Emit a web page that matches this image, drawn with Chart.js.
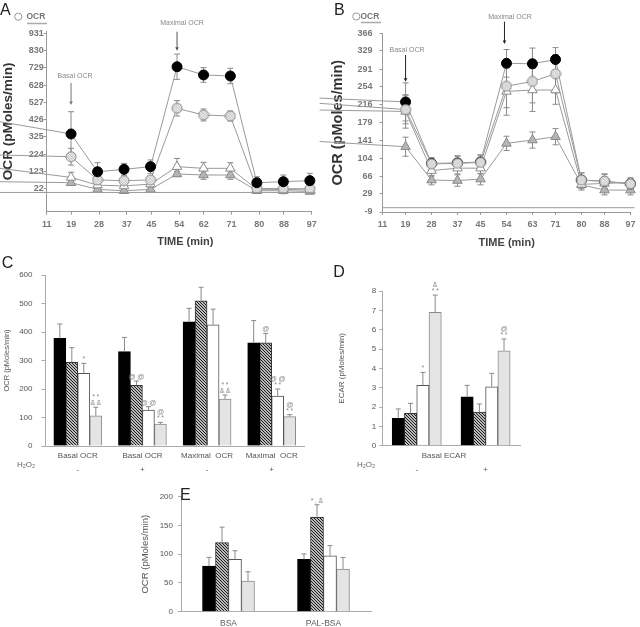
<!DOCTYPE html>
<html>
<head>
<meta charset="utf-8">
<script src="https://cdn.jsdelivr.net/npm/chart.js@4.4.0/dist/chart.umd.min.js"></script>
<style>
  html, body { margin: 0; padding: 0; background: #fff; }
  #wrap { position: relative; width: 640px; height: 627px; overflow: hidden; }
  #wrap canvas { position: absolute; left: 0; top: 0; }
</style>
</head>
<body>
<div id="wrap">
  <canvas id="chartA" width="640" height="627"></canvas>
  <canvas id="chartB" width="640" height="627"></canvas>
  <canvas id="chartC" width="640" height="627"></canvas>
  <canvas id="chartD" width="640" height="627"></canvas>
  <canvas id="chartE" width="640" height="627"></canvas>
</div>
<script>
// ---- Panel A: OCR time course (first entry = where each line enters from the left edge)
const timeA = [-4.2, 18.9, 27.5, 36.1, 44.7, 53.3, 61.9, 70.6, 79.2, 87.8, 96.4];
const xTicksA = [11, 19, 28, 37, 45, 54, 62, 71, 80, 88, 97];
const yTicksA = [22, 123, 224, 325, 426, 527, 628, 729, 830, 931];
const aBlack = [414, 342, 121, 135, 151, 735, 687, 681, 57, 63, 69];
const aBlackErr = [null, 130, 53, 35, 39, 74, 43, 45, 35, 39, 43];
const aHatch = [219, 209, 73, 69, 73, 492, 453, 447, 24, 22, 22];
const aHatchErr = [null, 49, 20, 15, 15, 45, 35, 29, 8, 8, 8];
const aWhite = [141, 88, 43, 38, 49, 151, 141, 141, 18, 18, 14];
const aWhiteErr = [null, 30, 10, 10, 10, 48, 35, 33, 6, 6, 6];
const aGray = [63, 57, 18, 10, 18, 108, 102, 102, 10, 10, 6];
const aGrayErr = [null, 15, 8, 8, 8, 15, 25, 25, 5, 5, 5];

// ---- Panel B
const timeB = [-10.8, 19, 28, 37, 45, 54, 63, 71, 80, 88, 97];
const xTicksB = [11, 19, 28, 37, 45, 54, 63, 71, 80, 88, 97];
const yTicksB = [-9, 29, 66, 104, 141, 179, 216, 254, 291, 329, 366];
const bBlack = [230, 222, 93, 94, 96, 303, 302, 311, 58, 55, 50];
const bBlackErr = [null, 40, 12, 15, 15, 29, 33, 25, 15, 15, 10];
const bHatch = [219, 206, 92, 93, 95, 255, 265, 281, 58, 56, 50];
const bHatchErr = [null, 30, 12, 15, 15, 45, 45, 40, 15, 15, 10];
const bWhite = [205, 202, 78, 83, 83, 244, 247, 247, 49, 51, 53];
const bWhiteErr = [null, 35, 12, 12, 12, 50, 45, 30, 12, 12, 10];
const bGray = [139, 128, 58, 57, 60, 135, 142, 149, 48, 37, 37];
const bGrayErr = [null, 20, 10, 12, 12, 15, 17, 17, 8, 10, 10];

// ---- Panel C: OCR bars
const groupsC = [['Basal OCR', '-'], ['Basal OCR', '+'], ['Maximal  OCR', '-'], ['Maximal  OCR', '+']];
const cBlack = [378, 331, 436, 362];
const cBlackErr = [50, 50, 47, 78];
const cHatch = [294, 213, 509, 362];
const cHatchErr = [51, 15, 48, 33];
const cWhite = [255, 126, 425, 175];
const cWhiteErr = [35, 12, 55, 25];
const cGray = [106, 77, 165, 103];
const cGrayErr = [30, 6, 14, 7];
const cHatchSig = [[], ['@@'], [], ['@']];
const cWhiteSig = [['*'], ['@@'], [], ['@@', '**']];
const cGraySig = [['**', '&&'], ['@', '**'], ['**', '&&'], ['@', '**']];

// ---- Panel D: ECAR bars
const groupsD = [['', '-'], ['', '+']];
const dBlack = [1.42, 2.53];
const dBlackErr = [0.48, 0.59];
const dHatch = [1.68, 1.74];
const dHatchErr = [0.51, 0.42];
const dWhite = [3.12, 3.05];
const dWhiteErr = [0.67, 0.69];
const dGray = [6.9, 4.91];
const dGrayErr = [0.89, 0.61];
const dWhiteSig = [['*'], []];
const dGraySig = [['&', '**'], ['@', '**']];

// ---- Panel E: OCR, BSA vs PAL-BSA
const groupsE = ['BSA', 'PAL-BSA'];
const eBlack = [79.5, 91];
const eBlackErr = [15, 9.5];
const eHatch = [120, 164];
const eHatchErr = [27, 22];
const eWhite = [91, 97];
const eWhiteErr = [15, 18];
const eGray = [53.4, 74.3];
const eGrayErr = [16, 20];
const eHatchSig = [[], ['*,&']];

const SANS = "'Liberation Sans', Arial, sans-serif";
Chart.defaults.font.family = SANS;

// diagonal hatch fill for bars
function hatchPattern() {
  const t = document.createElement('canvas');
  t.width = t.height = 3;
  const g = t.getContext('2d');
  g.fillStyle = '#fff';
  g.fillRect(0, 0, 3, 3);
  g.strokeStyle = '#111';
  g.lineWidth = 1.1;
  g.beginPath();
  g.moveTo(-1, -1); g.lineTo(4, 4);
  g.moveTo(-1, 2); g.lineTo(1, 4);
  g.moveTo(2, -1); g.lineTo(4, 1);
  g.stroke();
  return g.createPattern(t, 'repeat');
}

// hatched circle marker for the line panels
function hatchedDot(r) {
  const s = Math.ceil(r * 2 + 2);
  const c = document.createElement('canvas');
  c.width = c.height = s;
  const g = c.getContext('2d');
  const m = s / 2;
  g.beginPath(); g.arc(m, m, r, 0, Math.PI * 2);
  g.fillStyle = '#fff'; g.fill();
  g.save(); g.clip();
  g.strokeStyle = '#777'; g.lineWidth = 0.7;
  for (let k = -s; k < 2 * s; k += 2.6) {
    g.beginPath(); g.moveTo(k, 0); g.lineTo(k + s, s); g.stroke();
  }
  g.restore();
  g.beginPath(); g.arc(m, m, r, 0, Math.PI * 2);
  g.strokeStyle = '#888'; g.lineWidth = 1; g.stroke();
  return c;
}

const HATCH = hatchPattern();
const HDOT = hatchedDot(5);

// error bars (and significance marks on the bar panels)
function drawErrors(chart, upOnly) {
  const ctx = chart.ctx;
  const ys = chart.scales.y;
  ctx.save();
  ctx.strokeStyle = '#8a8a8a';
  ctx.lineWidth = 1;
  chart.data.datasets.forEach((ds, i) => {
    if (!ds.errors) return;
    const meta = chart.getDatasetMeta(i);
    meta.data.forEach((el, j) => {
      const e = ds.errors[j];
      if (e == null) return;
      const v = upOnly ? ds.data[j] : ds.data[j].y;
      const top = ys.getPixelForValue(v + e);
      const bot = upOnly ? el.y : ys.getPixelForValue(v - e);
      const cap = upOnly ? 2.5 : 3;
      ctx.beginPath();
      ctx.moveTo(el.x, bot); ctx.lineTo(el.x, top);
      ctx.moveTo(el.x - cap, top); ctx.lineTo(el.x + cap, top);
      if (!upOnly) { ctx.moveTo(el.x - cap, bot); ctx.lineTo(el.x + cap, bot); }
      ctx.stroke();
      const marks = ds.sig && ds.sig[j];
      if (marks && marks.length) {
        ctx.fillStyle = '#888';
        ctx.font = '7px ' + SANS;
        ctx.letterSpacing = '1.5px';
        ctx.textAlign = 'center';
        ctx.textBaseline = 'alphabetic';
        const n = marks.length;
        marks.forEach((m, k) => ctx.fillText(m, el.x + 0.75, top - 2 - (n - 1 - k) * 6));
        ctx.letterSpacing = '0px';
      }
    });
  });
  ctx.restore();
}

const errorBars = {
  id: 'errorBars',
  beforeDatasetsDraw(chart) { if (chart.config.type === 'line') drawErrors(chart, false); },
  afterDatasetsDraw(chart) { if (chart.config.type === 'bar') drawErrors(chart, true); }
};

function txt(ctx, s, x, y, font, color, align, base) {
  ctx.font = font;
  ctx.fillStyle = color;
  ctx.textAlign = align || 'center';
  ctx.textBaseline = base || 'middle';
  ctx.fillText(s, x, y);
}

function arrow(ctx, x, y1, y2, color) {
  ctx.strokeStyle = color; ctx.fillStyle = color; ctx.lineWidth = 1;
  ctx.beginPath(); ctx.moveTo(x, y1); ctx.lineTo(x, y2 - 2); ctx.stroke();
  ctx.beginPath(); ctx.moveTo(x - 1.8, y2 - 3.5); ctx.lineTo(x + 1.8, y2 - 3.5); ctx.lineTo(x, y2); ctx.closePath(); ctx.fill();
}

function legendOCR(ctx, cx, cy, tx, ux1, ux2, uy) {
  ctx.strokeStyle = '#999'; ctx.lineWidth = 1;
  ctx.beginPath(); ctx.arc(cx, cy, 3.6, 0, Math.PI * 2); ctx.stroke();
  txt(ctx, 'OCR', tx, cy, 'bold 8.5px ' + SANS, '#777', 'left');
  ctx.strokeStyle = '#aaa'; ctx.lineWidth = 1.5;
  ctx.beginPath(); ctx.moveTo(ux1, uy); ctx.lineTo(ux2, uy); ctx.stroke();
}

function zeroLine(ctx, chart, x1) {
  const y = chart.scales.y.getPixelForValue(0);
  ctx.strokeStyle = '#9a9a9a'; ctx.lineWidth = 1;
  ctx.beginPath(); ctx.moveTo(x1, y); ctx.lineTo(chart.chartArea.right + 4, y); ctx.stroke();
}

function panelPlugin(id, fn) {
  return { id, afterDraw(chart) { const ctx = chart.ctx; ctx.save(); fn(ctx, chart); ctx.restore(); } };
}

function lineSet(label, times, vals, errs, look, order) {
  return {
    label, order,
    data: times.map((t, i) => ({ x: t, y: vals[i] })),
    errors: errs,
    clip: false,
    borderColor: '#9a9a9a',
    borderWidth: 1,
    tension: 0,
    pointRadius: c => c.dataIndex === 0 ? 0 : look.r,
    pointStyle: look.style,
    pointBackgroundColor: look.fill,
    pointBorderColor: look.stroke,
    pointBorderWidth: 1
  };
}

const LOOK_BLACK = { r: 5, style: 'circle', fill: '#000', stroke: '#000' };
const LOOK_HATCH = { r: 5, style: HDOT, fill: '#fff', stroke: '#777' };
const LOOK_WHITE = { r: 5.5, style: 'triangle', fill: '#fff', stroke: '#8a8a8a' };
const LOOK_GRAY = { r: 5.5, style: 'triangle', fill: '#b4b4b4', stroke: '#8a8a8a' };

function timeScales(xTicks, yTicks, yMin, yMax, yWidth, titleSize, titlePad, yTickPad) {
  const tickFont = { family: SANS, size: 9, weight: 'bold' };
  return {
    x: {
      type: 'linear', min: 11, max: 97,
      afterBuildTicks: s => { s.ticks = xTicks.map(v => ({ value: v })); },
      afterFit: s => { s.height = 40; },
      grid: { drawOnChartArea: false, tickLength: 3, color: '#999' },
      border: { color: '#999' },
      ticks: { autoSkip: false, maxRotation: 0, padding: 4.5, color: '#777', font: tickFont }
    },
    y: {
      type: 'linear', min: yMin, max: yMax,
      afterBuildTicks: s => { s.ticks = yTicks.map(v => ({ value: v })); },
      afterFit: s => { s.width = yWidth; },
      grid: { drawOnChartArea: false, tickLength: 3, color: '#999' },
      border: { color: '#999' },
      ticks: { autoSkip: false, padding: yTickPad, color: '#777', font: tickFont },
      title: {
        display: true, text: 'OCR (pMoles/min)', color: '#333',
        font: { family: SANS, size: titleSize, weight: 'bold' },
        padding: { top: titlePad, bottom: 0 }
      }
    }
  };
}

const common = {
  responsive: false,
  animation: false,
  events: [],
  devicePixelRatio: 1,
  plugins: { legend: { display: false }, tooltip: { enabled: false } }
};

// ---------- A
new Chart(document.getElementById('chartA'), {
  type: 'line',
  data: {
    datasets: [
      lineSet('hatched', timeA, aHatch, aHatchErr, LOOK_HATCH, 1),
      lineSet('black', timeA, aBlack, aBlackErr, LOOK_BLACK, 0),
      lineSet('white', timeA, aWhite, aWhiteErr, LOOK_WHITE, 2),
      lineSet('gray', timeA, aGray, aGrayErr, LOOK_GRAY, 3)
    ]
  },
  options: {
    ...common,
    layout: { padding: { left: 0, top: 31, right: 328.3, bottom: 375.3 } },
    scales: timeScales(xTicksA, yTicksA, -112.5, 944, 46.7, 13.6, 0, 0)
  },
  plugins: [errorBars, panelPlugin('decorA', (ctx, chart) => {
    zeroLine(ctx, chart, 0);
    const xs = chart.scales.x;
    txt(ctx, 'A', 0, 15, '16px ' + SANS, '#222', 'left', 'alphabetic');
    legendOCR(ctx, 18.3, 16.7, 26.5, 27, 47, 23.5);
    txt(ctx, 'Basal OCR', 75, 76, '7px ' + SANS, '#888');
    arrow(ctx, xs.getPixelForValue(18.9), 83, 105, '#777');
    txt(ctx, 'Maximal OCR', 182, 23, '7px ' + SANS, '#888');
    arrow(ctx, xs.getPixelForValue(53.3), 31.7, 50.7, '#555');
    txt(ctx, 'TIME (min)', 185.3, 241.7, 'bold 11px ' + SANS, '#444');
  })]
});

// ---------- B
new Chart(document.getElementById('chartB'), {
  type: 'line',
  data: {
    datasets: [
      lineSet('hatched', timeB, bHatch, bHatchErr, LOOK_HATCH, 0),
      lineSet('black', timeB, bBlack, bBlackErr, LOOK_BLACK, 2),
      lineSet('white', timeB, bWhite, bWhiteErr, LOOK_WHITE, 1),
      lineSet('gray', timeB, bGray, bGrayErr, LOOK_GRAY, 3)
    ]
  },
  options: {
    ...common,
    layout: { padding: { left: 320, top: 33.3, right: 6.7, bottom: 375 } },
    scales: timeScales(xTicksB, yTicksB, -9, 366, 62.5, 14.5, 9.3, 7)
  },
  plugins: [errorBars, panelPlugin('decorB', (ctx, chart) => {
    zeroLine(ctx, chart, chart.chartArea.left);
    const xs = chart.scales.x;
    txt(ctx, 'B', 334, 15, '16px ' + SANS, '#222', 'left', 'alphabetic');
    legendOCR(ctx, 356.3, 16.5, 360.5, 361, 381, 22.5);
    txt(ctx, 'Basal OCR', 407, 50, '7px ' + SANS, '#888');
    arrow(ctx, xs.getPixelForValue(19), 55, 81.7, '#222');
    txt(ctx, 'Maximal OCR', 510, 17, '7px ' + SANS, '#888');
    arrow(ctx, xs.getPixelForValue(53.3), 21.7, 44, '#222');
    txt(ctx, 'TIME (min)', 506.7, 242.7, 'bold 11px ' + SANS, '#444');
  })]
});

// ---------- bar panels
function barSet(label, vals, errs, sig, fill, stroke) {
  return { label, data: vals, errors: errs, sig, backgroundColor: fill, borderColor: stroke, borderWidth: 1, borderSkipped: 'start' };
}

function barSets(black, blackErr, hatch, hatchErr, hatchSig, white, whiteErr, whiteSig, gray, grayErr, graySig) {
  return [
    barSet('black', black, blackErr, null, '#000', '#000'),
    barSet('hatched', hatch, hatchErr, hatchSig, HATCH, '#333'),
    barSet('white', white, whiteErr, whiteSig, '#fff', '#555'),
    barSet('gray', gray, grayErr, graySig, '#e4e4e4', '#8c8c8c')
  ];
}

function barScales(yMax, step, yWidth, xHeight, xPad, xLine, yTitle, titleSize, titlePad, yTickLen, yTickPad, xSize) {
  const tickFont = { family: SANS, size: 8 };
  return {
    x: {
      afterFit: s => { s.height = xHeight; },
      grid: { display: true, drawOnChartArea: false, drawTicks: false, color: '#aaa' },
      border: { color: '#aaa' },
      ticks: { autoSkip: false, maxRotation: 0, padding: xPad, color: '#555', font: { family: SANS, size: xSize, lineHeight: xLine } }
    },
    y: {
      min: 0, max: yMax,
      afterFit: s => { s.width = yWidth; },
      grid: { drawOnChartArea: false, tickLength: yTickLen, color: '#aaa' },
      border: { color: '#aaa' },
      ticks: { stepSize: step, padding: yTickPad, color: '#555', font: tickFont },
      title: {
        display: true, text: yTitle, color: '#555',
        font: { family: SANS, size: titleSize },
        padding: { top: titlePad, bottom: 0 }
      }
    }
  };
}

// ---------- C
new Chart(document.getElementById('chartC'), {
  type: 'bar',
  data: {
    labels: groupsC,
    datasets: barSets(cBlack, cBlackErr, cHatch, cHatchErr, cHatchSig, cWhite, cWhiteErr, cWhiteSig, cGray, cGrayErr, cGraySig)
  },
  options: {
    ...common,
    datasets: { bar: { barThickness: 12 } },
    layout: { padding: { left: 0, top: 275, right: 336, bottom: 151 } },
    scales: barScales(600, 100, 45.5, 30, 2.7, 1.75, 'OCR (pMoles/min)', 7.5, 2.5, 4, 9, 8)
  },
  plugins: [errorBars, panelPlugin('decorC', ctx => {
    txt(ctx, 'C', 1.7, 268.3, '16px ' + SANS, '#222', 'left', 'alphabetic');
    txt(ctx, 'H\u2082O\u2082', 26, 465, '8px ' + SANS, '#666');
  })]
});

// ---------- D
new Chart(document.getElementById('chartD'), {
  type: 'bar',
  data: {
    labels: groupsD,
    datasets: barSets(dBlack, dBlackErr, dHatch, dHatchErr, null, dWhite, dWhiteErr, dWhiteSig, dGray, dGrayErr, dGraySig)
  },
  options: {
    ...common,
    datasets: { bar: { barThickness: 12.3 } },
    layout: { padding: { left: 330, top: 291, right: 120, bottom: 151.3 } },
    scales: barScales(8, 1, 52.3, 30, 3, 1.75, 'ECAR (pMoles/min)', 8, 6.9, 3, 3, 8)
  },
  plugins: [errorBars, panelPlugin('decorD', ctx => {
    txt(ctx, 'D', 333.3, 276.7, '16px ' + SANS, '#222', 'left', 'alphabetic');
    txt(ctx, 'Basal ECAR', 444, 455.7, '8px ' + SANS, '#555');
    txt(ctx, 'H\u2082O\u2082', 366, 465, '8px ' + SANS, '#666');
  })]
});

// ---------- E
new Chart(document.getElementById('chartE'), {
  type: 'bar',
  data: {
    labels: groupsE,
    datasets: barSets(eBlack, eBlackErr, eHatch, eHatchErr, eHatchSig, eWhite, eWhiteErr, null, eGray, eGrayErr, null)
  },
  options: {
    ...common,
    datasets: { bar: { barThickness: 13 } },
    layout: { padding: { left: 130, top: 496.7, right: 269, bottom: 1.3 } },
    scales: barScales(200, 50, 51, 14, 6.8, 1.2, 'OCR (pMoles/min)', 9.5, 9.3, 3, 5, 8.5)
  },
  plugins: [errorBars, panelPlugin('decorE', ctx => {
    txt(ctx, 'E', 180, 500, '16px ' + SANS, '#222', 'left', 'alphabetic');
  })]
});
</script>
</body>
</html>
